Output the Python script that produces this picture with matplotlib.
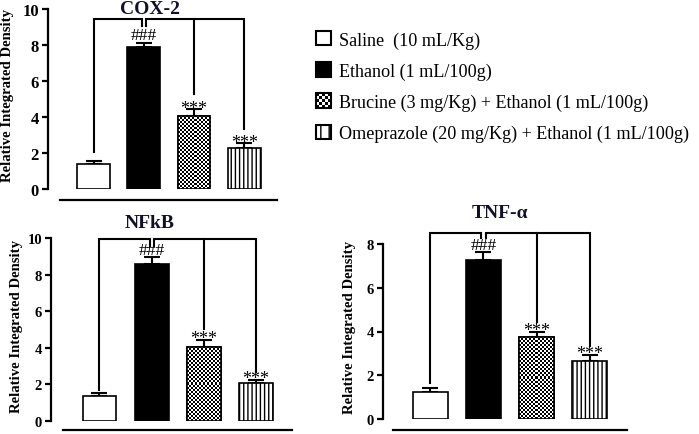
import numpy as np
import matplotlib
matplotlib.use("Agg")
import matplotlib.pyplot as plt
from matplotlib.patches import Patch, Rectangle
from matplotlib.legend_handler import HandlerBase

plt.rcParams['font.family'] = ['Liberation Serif', 'DejaVu Serif']
plt.rcParams['hatch.linewidth'] = 1.0

# ---------------- data ----------------
groups = ["Saline  (10 mL/Kg)", "Ethanol (1 mL/100g)",
          "Brucine (3 mg/Kg) + Ethanol (1 mL/100g)",
          "Omeprazole (20 mg/Kg) + Ethanol (1 mL/100g)"]

cox_mean = [1.39, 7.90, 4.07, 2.28]
cox_err = [0.15, 0.23, 0.37, 0.26]
cox_bracket = 9.44
cox_drops = [2.06, 9.05, 5.28, 3.33]

nfkb_mean = [1.36, 8.58, 4.07, 2.09]
nfkb_err = [0.17, 0.37, 0.37, 0.16]
nfkb_bracket = 9.95
nfkb_drops = [1.67, 9.58, 5.04, 2.67]

tnf_mean = [1.25, 7.29, 3.77, 2.67]
tnf_err = [0.17, 0.33, 0.22, 0.26]
tnf_bracket = 8.5
tnf_drops = [1.65, 8.26, 4.42, 3.35]

sig_labels = ["", "###", "***", "***"]

W, H = 699, 435
fig = plt.figure(figsize=(W / 100, H / 100), dpi=100)


def px_axes(left, right, top, bottom):
    return fig.add_axes([left / W, 1 - bottom / H, (right - left) / W, (bottom - top) / H])


def panel(ax, means, errs, bracket, drops, ymax, yticks, xlim, spine_b, outward,
          c_px, tick_fs, title, title_xy, ylab_xy):
    x = np.arange(len(means))
    width = 0.65
    ax.set_xlim(*xlim)
    ax.set_ylim(0, ymax)
    ax.errorbar(x, means, yerr=[np.zeros(len(errs)), errs], fmt='none',
                ecolor='black', elinewidth=1.5, capsize=6, capthick=1.5, zorder=1)
    faces = ['white', 'black', 'white', 'white']
    hatches = [None, None, None, '||||']
    bars = ax.bar(x, means, width=width, color=faces, edgecolor='black',
                  linewidth=1.2, zorder=2)
    for b, h in zip(bars, hatches):
        if h:
            b.set_hatch(h)
    # checkerboard fill for the Brucine bar
    b = bars[2]
    fig.canvas.draw()
    p0 = ax.transData.transform((b.get_x(), 0))
    p1 = ax.transData.transform((b.get_x() + b.get_width(), b.get_height()))
    nx = max(1, int(round(abs(p1[0] - p0[0]) / 2.0)))
    ny = max(1, int(round(abs(p1[1] - p0[1]) / 2.0)))
    ii, jj = np.indices((ny, nx))
    arr = ((ii + jj) % 2).astype(float)
    im = ax.imshow(arr, cmap='gray', vmin=0, vmax=1, interpolation='nearest',
                   extent=[b.get_x(), b.get_x() + b.get_width(), 0, b.get_height()],
                   aspect='auto', zorder=2.5)
    im.set_clip_path(b)
    ax.bar([x[2]], [means[2]], width=width, facecolor='none', edgecolor='black',
           linewidth=1.2, zorder=3)
    ax.set_xlim(*xlim)
    ax.set_ylim(0, ymax)

    # significance bracket
    d = 2.2 / c_px
    lw = 1.5
    ax.plot([x[0], x[0], x[1] - d, x[1] - d], [drops[0], bracket, bracket, drops[1]],
            color='black', lw=lw, clip_on=False, zorder=4, solid_joinstyle='miter')
    ax.plot([x[1] + d, x[1] + d, x[3], x[3]], [drops[1], bracket, bracket, drops[3]],
            color='black', lw=lw, clip_on=False, zorder=4, solid_joinstyle='miter')
    ax.plot([x[2], x[2]], [bracket, drops[2]], color='black', lw=lw,
            clip_on=False, zorder=4)

    for xi, m, e, s in zip(x, means, errs, sig_labels):
        if s == "###":
            ax.annotate(s, (xi, m + e), xytext=(0, 2.5), textcoords='offset points',
                        ha='center', va='baseline', fontsize=12.5, zorder=5)
        elif s:
            ax.annotate(s, (xi, m + e), xytext=(0, -2.5), textcoords='offset points',
                        ha='center', va='baseline', fontsize=13, zorder=5)

    for sname in ['top', 'right']:
        ax.spines[sname].set_visible(False)
    ax.spines['left'].set_linewidth(1.6)
    ax.spines['left'].set_bounds(0, ymax)
    ax.spines['bottom'].set_linewidth(1.6)
    ax.spines['bottom'].set_position(('outward', outward))
    ax.spines['bottom'].set_bounds(*spine_b)
    ax.set_xticks([])
    ax.set_yticks(yticks)
    ax.tick_params(axis='y', direction='out', length=4.5, width=1.6, pad=2,
                   labelsize=tick_fs)
    for lab in ax.get_yticklabels():
        lab.set_fontweight('bold')
    ax.set_ylabel("Relative Integrated Density", fontsize=10.6, fontweight='bold')
    ax.yaxis.set_label_coords(ylab_xy[0] / W, 1 - ylab_xy[1] / H, transform=fig.transFigure)
    ax.yaxis.label.set_verticalalignment('center')
    fig.text(title_xy[0] / W, 1 - title_xy[1] / H, title, ha='center', va='center',
             fontsize=14, fontweight='bold', color='#10102a')


# COX-2
ax1 = px_axes(48, 280, 10, 190)
panel(ax1, cox_mean, cox_err, cox_bracket, cox_drops, 10, [0, 2, 4, 6, 8, 10],
      (-0.905, 3.708), (-0.67, 3.65), 7.9, 50.3, 12, "COX-2", (150, 9), (8, 96))

# NFkB
ax2 = px_axes(51, 295, 239, 422)
panel(ax2, nfkb_mean, nfkb_err, nfkb_bracket, nfkb_drops, 10, [0, 2, 4, 6, 8, 10],
      (-0.929, 3.745), (-0.70, 3.69), 6.5, 52.2, 10.5, "NFkB", (150, 224), (17, 327))

# TNF-alpha
ax3 = px_axes(383, 630, 245, 420)
panel(ax3, tnf_mean, tnf_err, tnf_bracket, tnf_drops, 8, [0, 2, 4, 6, 8],
      (-0.896, 3.764), (-0.71, 3.70), 7.9, 53.0, 10.5, "TNF-α", (500, 214), (350, 328))


# ---------------- legend ----------------
class CheckerHandle:
    pass


class HandlerChecker(HandlerBase):
    def create_artists(self, legend, orig_handle, xdescent, ydescent, width, height,
                       fontsize, trans):
        arts = []
        n = 5
        cw, ch = width / n, height / n
        x0, y0 = -xdescent, -ydescent
        for i in range(n):
            for j in range(n):
                if (i + j) % 2 == 0:
                    r = Rectangle((x0 + i * cw, y0 + j * ch), cw, ch, facecolor='black',
                                  edgecolor='none', transform=trans)
                    arts.append(r)
        frame = Rectangle((x0, y0), width, height, facecolor='none', edgecolor='black',
                          linewidth=1.5, transform=trans)
        arts.append(frame)
        return arts


handles = [Patch(facecolor='white', edgecolor='black', linewidth=1.5),
           Patch(facecolor='black', edgecolor='black', linewidth=1.5),
           CheckerHandle(),
           Patch(facecolor='white', edgecolor='black', linewidth=1.5, hatch='||')]
fig.legend(handles, groups, loc='upper left', bbox_to_anchor=(316 / W, 1 - 32 / H),
           bbox_transform=fig.transFigure, frameon=False, fontsize=13.1,
           handlelength=0.84, handleheight=0.84, handletextpad=0.4,
           labelspacing=0.75, borderpad=0, borderaxespad=0,
           handler_map={CheckerHandle: HandlerChecker()})

fig.savefig("out.png", dpi=100)
